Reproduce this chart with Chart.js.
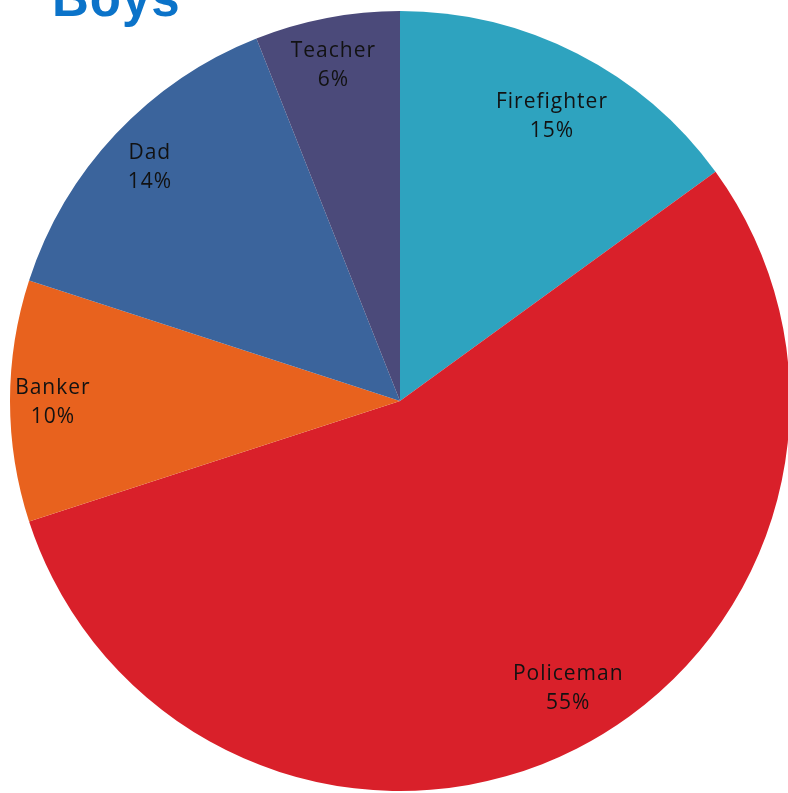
<!DOCTYPE html>
<html>
<head>
<meta charset="utf-8">
<script src="https://cdn.jsdelivr.net/npm/chart.js@4/dist/chart.umd.min.js"></script>
<style>
  html, body { margin: 0; padding: 0; background: #ffffff; overflow: hidden; width: 788px; height: 793px; }
  #wrap { position: absolute; left: 0; top: 1px; width: 800px; height: 800px; }
  #title { position: absolute; left: 52px; top: -26px; font-family: "Liberation Sans", Arial, sans-serif; font-weight: bold; font-size: 51px; line-height: 50px; color: #0b73c9; white-space: nowrap; letter-spacing: 1px; z-index: 2; }
</style>
</head>
<body>
<div id="title">Boys</div>
<div id="wrap"><canvas id="c" width="800" height="800"></canvas></div>
<script>
const categories = ["Firefighter", "Policeman", "Banker", "Dad", "Teacher"];
const shares = [15, 55, 10, 14, 6];
const sliceColors = ["#2ea3bf", "#d9202a", "#e8621e", "#3b649c", "#4b4a7a"];

// label placement tweaks: radial fraction and angle shift (degrees)
const labelLayout = [
  { r: 0.83, da: 1 },
  { r: 0.85, da: -3.5 },
  { r: 0.89, da: 0 },
  { r: 0.88, da: 0 },
  { r: 0.88, da: -0.4 }
];

const labelPlugin = {
  id: 'sliceLabels',
  afterDatasetsDraw(chart) {
    const ctx = chart.ctx;
    const meta = chart.getDatasetMeta(0);
    ctx.save();
    ctx.fillStyle = '#121212';
    ctx.font = '21px "Open Sans", sans-serif';
    if ('letterSpacing' in ctx) ctx.letterSpacing = '1px';
    ctx.textAlign = 'center';
    ctx.textBaseline = 'alphabetic';
    meta.data.forEach((arc, i) => {
      const p = arc.getProps(['x', 'y', 'startAngle', 'endAngle', 'outerRadius'], true);
      const lay = labelLayout[i];
      const mid = (p.startAngle + p.endAngle) / 2 + lay.da * Math.PI / 180;
      const rr = p.outerRadius * lay.r;
      const cx = p.x + Math.cos(mid) * rr;
      const cy = p.y + Math.sin(mid) * rr;
      ctx.fillText(categories[i], cx, cy - 7);
      ctx.fillText(shares[i] + '%', cx, cy + 22);
    });
    ctx.restore();
  }
};

new Chart(document.getElementById('c'), {
  type: 'pie',
  data: {
    labels: categories,
    datasets: [{
      data: shares,
      backgroundColor: sliceColors,
      borderWidth: 0
    }]
  },
  options: {
    responsive: false,
    animation: false,
    layout: { padding: 10 },
    plugins: {
      legend: { display: false },
      tooltip: { enabled: false },
      title: { display: false }
    }
  },
  plugins: [labelPlugin]
});
</script>
</body>
</html>
